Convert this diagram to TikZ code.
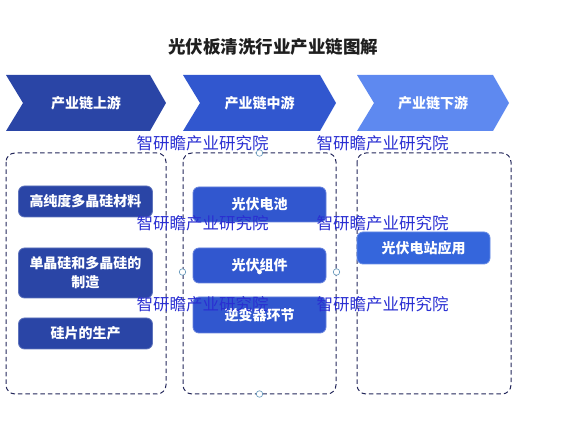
\documentclass[tikz,border=0pt]{standalone}
\usepackage{fontspec}
\setmainfont{Noto Sans CJK SC}
\usetikzlibrary{positioning}
\definecolor{cup}{HTML}{2A45A6}
\definecolor{cmid}{HTML}{3157CF}
\definecolor{cdown}{HTML}{5E89F0}
\definecolor{cdownbx}{HTML}{3566DC}
\definecolor{frm}{HTML}{23275A}
\definecolor{wmblue}{HTML}{2A2FD2}
\definecolor{hdlc}{HTML}{5E93B8}
\definecolor{ink}{HTML}{1F1F1F}
\tikzset{
  every picture/.style={line width=0.8pt},
  hd/.style={text=white,font=\bfseries\fontsize{14}{16}\selectfont},
  frame/.style={draw=frm,dash pattern=on 4.5pt off 3pt,line width=1pt,rounded corners=9pt},
  itm/.style={fill=#1,draw=#1!75!white,rounded corners=6pt,text=white,align=center,
    font=\bfseries\fontsize{14}{19}\selectfont,minimum width=134pt,inner sep=1pt},
  wm/.style={text=wmblue,font=\fontsize{16.5}{18}\selectfont},
  hdl/.style={circle,draw=hdlc,fill=white,inner sep=0pt,minimum size=6.5pt,line width=0.6pt},
}
\begin{document}
\begin{tikzpicture}[x=1pt,y=-1pt]
  \useasboundingbox (0,0) rectangle (587,446);
  \node[text=ink,font=\bfseries\fontsize{17.5}{20}\selectfont] (title) at (273,47) {光伏板清洗行业产业链图解};
  % chevrons
  \foreach \i/\x/\w/\c/\t in {1/6/160/cup/产业链上游,2/183/153/cmid/产业链中游,3/357/152/cdown/产业链下游}
    {\fill[\c] (\x,75) -- (\x+\w-16,75) -- (\x+\w,103) -- (\x+\w-16,131) -- (\x,131) -- (\x+17,103) -- cycle;
     \node[hd] (h\i) at (\x+0.5*\w,103) {\t};}
  % frames
  \draw[frame] (6,153) rectangle (166,394);
  \draw[frame] (183,153) rectangle (336,394);
  \draw[frame] (357,153) rectangle (511,394);
  % upstream
  \node[itm=cup,minimum height=31pt] (u1) at (85.5,201.5) {高纯度多晶硅材料};
  \node[itm=cup,minimum height=50pt] (u2) at (85.5,273) {单晶硅和多晶硅的\\制造};
  \node[itm=cup,minimum height=31pt] (u3) at (85.5,333.5) {硅片的生产};
  % midstream
  \node[itm=cmid,minimum width=133pt,minimum height=35pt] (m1) at (259.5,204.5) {光伏电池};
  \node[itm=cmid,minimum width=133pt,minimum height=35pt] (m2) at (259.5,265.5) {光伏组件};
  \node[itm=cmid,minimum width=133pt,minimum height=36pt] (m3) at (259.5,315) {逆变器环节};
  % downstream
  \node[itm=cdownbx,minimum width=133pt,minimum height=32pt] (d1) at (423.5,248) {光伏电站应用};
  % watermarks
  \foreach \y [count=\j] in {143,223,304}
    {\node[wm] (wa\j) at (202.5,\y) {智研瞻产业研究院};
     \node[wm] (wb\j) at (382.5,\y) {智研瞻产业研究院};}
  % handles
  \node[hdl] (hT) at (259.5,153) {};
  \node[hdl] (hL) at (182.5,272) {};
  \node[hdl] (hR) at (336.5,272) {};
  \node[hdl] (hB) at (259.5,394) {};
  \node[hdl,minimum size=4pt,draw=white,fill=white] (hC) at (259.5,272) {};
\end{tikzpicture}
\end{document}
